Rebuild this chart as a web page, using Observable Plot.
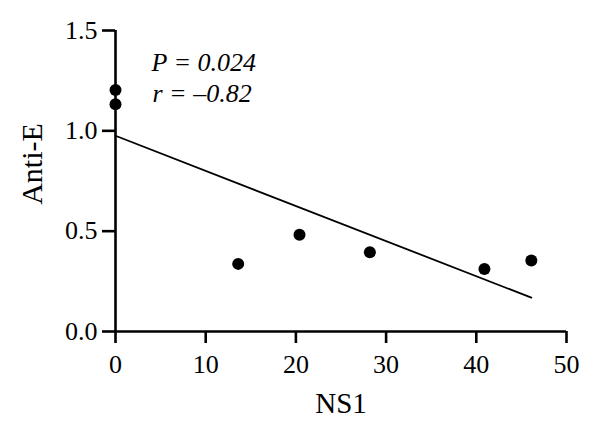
<!DOCTYPE html>
<html>
<head>
<meta charset="utf-8">
<script src="https://cdn.jsdelivr.net/npm/d3@7"></script>
<script src="https://cdn.jsdelivr.net/npm/@observablehq/plot@0.6"></script>
<style>
  html, body { margin: 0; padding: 0; background: #fff; }
  #chart { width: 600px; height: 433px; }
</style>
</head>
<body>
<div id="chart"></div>
<script>
const ns1   = [0, 0, 13.6, 20.4, 28.2, 40.9, 46.1];
const antiE = [1.204, 1.133, 0.337, 0.482, 0.395, 0.312, 0.354];
const xTicks = [0, 10, 20, 30, 40, 50];
const yTicks = [0, 0.5, 1.0, 1.5];
const xLabel = "NS1";
const yLabel = "Anti-E";
const statP = "P = 0.024";
const statR = "r = –0.82";

const data = ns1.map((x, i) => ({x, y: antiE[i]}));
const font = "'Liberation Serif', 'DejaVu Serif', serif";

const chart = Plot.plot({
  width: 600,
  height: 433,
  marginLeft: 115,
  marginRight: 34,
  marginTop: 30,
  marginBottom: 102,
  style: {fontFamily: font, fontSize: "26px", color: "#000", background: "#fff"},
  x: {domain: [0, 50]},
  y: {domain: [0, 1.5]},
  marks: [
    Plot.axisX({ticks: xTicks, tickSize: 12, tickPadding: 11, strokeWidth: 2.6, fontSize: 26, label: null, tickFormat: d3.format("d")}),
    Plot.axisY({ticks: yTicks, tickSize: 13, tickPadding: 5, strokeWidth: 2.6, fontSize: 26, label: null, tickFormat: d3.format(".1f")}),
    Plot.ruleY([0], {strokeWidth: 2.6, stroke: "#000"}),
    Plot.ruleX([0], {strokeWidth: 2.6, stroke: "#000"}),
    Plot.linearRegressionY(data, {x: "x", y: "y", ci: 0, stroke: "#000", strokeWidth: 1.8}),
    Plot.dot(data, {x: "x", y: "y", r: 6, fill: "#000"}),
    Plot.text([yLabel], {frameAnchor: "left", textAnchor: "middle", lineAnchor: "middle", rotate: -90, dx: -83, dy: -17, fontSize: 30, fill: "#000"}),
    Plot.text([xLabel], {frameAnchor: "bottom", textAnchor: "middle", lineAnchor: "bottom", dy: 81, fontSize: 29, fill: "#000"}),
    Plot.text([statP], {frameAnchor: "top-left", textAnchor: "start", lineAnchor: "bottom", dx: 36, dy: 40, fontSize: 26, fontStyle: "italic", fill: "#000"}),
    Plot.text([statR], {frameAnchor: "top-left", textAnchor: "start", lineAnchor: "bottom", dx: 37, dy: 71, fontSize: 26, fontStyle: "italic", fill: "#000"})
  ]
});
document.getElementById("chart").appendChild(chart);
</script>
</body>
</html>
